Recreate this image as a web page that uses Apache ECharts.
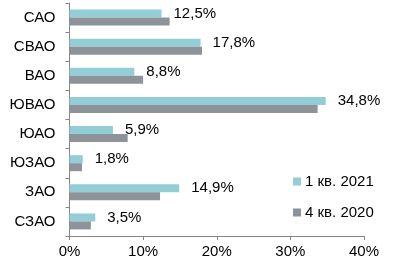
<!DOCTYPE html>
<html><head><meta charset="utf-8">
<script src="https://cdn.jsdelivr.net/npm/echarts@6/dist/echarts.min.js"></script>
<style>html,body{margin:0;padding:0;background:#fff}#c{width:398px;height:266px}</style>
</head><body><div id="c"></div>
<script>
const categories = ['САО','СВАО','ВАО','ЮВАО','ЮАО','ЮЗАО','ЗАО','СЗАО'];
const seriesNames = ['1 кв. 2021','4 кв. 2020'];
const q1_2021 = [12.5, 17.8, 8.8, 34.8, 5.9, 1.8, 14.9, 3.5];
const q4_2020 = [13.6, 18.0, 10.0, 33.7, 7.9, 1.7, 12.3, 2.9];
const xTicks = [0, 10, 20, 30, 40];

const font = 'Liberation Sans, Arial, sans-serif';
const chart = echarts.init(document.getElementById('c'), null, {renderer:'canvas'});
chart.setOption({
  animation: false,
  backgroundColor: '#fff',
  grid: {left: 69.5, right: 34, top: 3, bottom: 30, containLabel: false},
  legend: {
    orient: 'vertical', left: 288, top: 169,
    data: seriesNames,
    itemWidth: 8, itemHeight: 8, itemGap: 16,
    icon: 'rect',
    textStyle: {fontFamily: font, fontSize: 15, color: '#000', padding: [0,0,0,-1]}
  },
  xAxis: {
    type: 'value', min: xTicks[0], max: xTicks[xTicks.length-1], interval: 10,
    axisLine: {show: true, lineStyle: {color: '#868686', width: 1}},
    axisTick: {show: true, length: 4, lineStyle: {color: '#868686'}},
    splitLine: {show: false},
    axisLabel: {formatter: '{value}%', fontFamily: font, fontSize: 15, color: '#000', margin: 8}
  },
  yAxis: {
    type: 'category', data: categories, inverse: true,
    axisLine: {show: true, lineStyle: {color: '#868686', width: 1}},
    axisTick: {show: true, length: 4, lineStyle: {color: '#868686'}},
    axisLabel: {fontFamily: font, fontSize: 15, color: '#000', margin: 14}
  },
  series: [
    {
      name: seriesNames[0], type: 'bar', data: q1_2021,
      barWidth: 8, barGap: '0%',
      itemStyle: {color: '#93CDD6'},
      label: {show: true, position: 'right', distance: 12, fontFamily: font, fontSize: 15, color: '#000',
        formatter: p => p.value.toFixed(1).replace('.', ',') + '%'}
    },
    {
      name: seriesNames[1], type: 'bar', data: q4_2020,
      barWidth: 8, barGap: '0%',
      itemStyle: {color: '#8E9399'}
    }
  ]
});
</script></body></html>
